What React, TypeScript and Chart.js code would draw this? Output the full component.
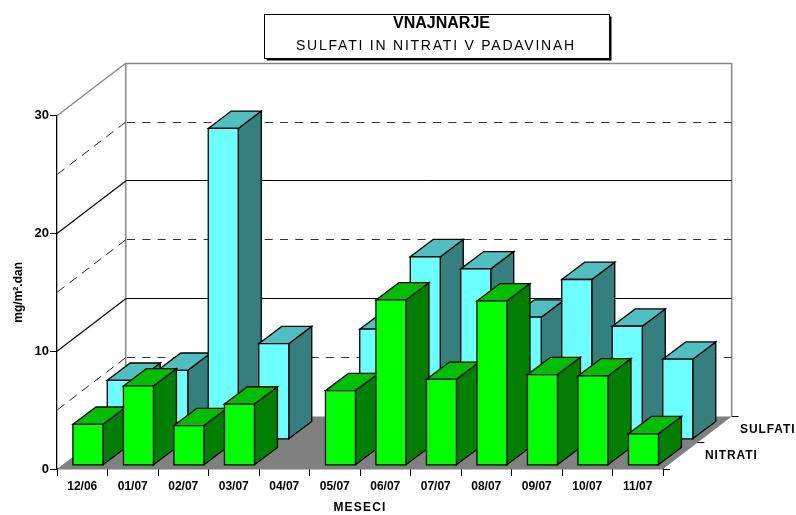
import React, { useEffect, useRef } from "react";
import { Chart, registerables } from "chart.js";

Chart.register(...registerables);

const categories = ["12/06", "01/07", "02/07", "03/07", "04/07", "05/07", "06/07", "07/07", "08/07", "09/07", "10/07", "11/07"];
const nitrati = [3.48, 6.74, 3.37, 5.2, null, 6.34, 14.04, 7.3, 13.96, 7.7, 7.59, 2.68];
const sulfati = [5.01, 5.86, 26.4, 8.12, null, 9.35, 15.5, 14.47, 10.37, 13.57, 9.6, 6.8];
const dashedLevels = [5, 15, 25];
const solidLevels = [10, 20];
const titleMain = "VNAJNARJE";
const titleSub = "SULFATI IN NITRATI V PADAVINAH";
const xTitle = "MESECI";
const yTitle = "mg/m\u00B2.dan";

const DEPTH_X = 68.7;
const DEPTH_Y = 52.5;
const FONT = '"Liberation Sans", Arial, sans-serif';

const SERIES_STYLE: Record<string, { front: string; top: string; side: string; dx: number; dy: number }> = {
  NITRATI: { front: "#00FF00", top: "#00BF00", side: "#007F00", dx: 5.7, dy: 3.7 },
  SULFATI: { front: "#6BFFFF", top: "#50BFBF", side: "#357F7F", dx: 40.0, dy: 29.7 },
};
const BAR_DX = 23;
const BAR_DY = 17.3;

function poly(ctx: CanvasRenderingContext2D, pts: number[][], fill: string | null, stroke: string | null, lw = 1.3) {
  ctx.beginPath();
  pts.forEach((p, i) => (i ? ctx.lineTo(p[0], p[1]) : ctx.moveTo(p[0], p[1])));
  ctx.closePath();
  if (fill) {
    ctx.fillStyle = fill;
    ctx.fill();
  }
  if (stroke) {
    ctx.strokeStyle = stroke;
    ctx.lineWidth = lw;
    ctx.stroke();
  }
}

function seg(ctx: CanvasRenderingContext2D, x0: number, y0: number, x1: number, y1: number, color: string, lw: number, dash: number[] = []) {
  ctx.beginPath();
  ctx.setLineDash(dash);
  ctx.moveTo(x0, y0);
  ctx.lineTo(x1, y1);
  ctx.strokeStyle = color;
  ctx.lineWidth = lw;
  ctx.stroke();
  ctx.setLineDash([]);
}

const snap = (v: number) => Math.floor(v) + 0.5;

const box3dPlugin = {
  id: "box3d",
  beforeDatasetsDraw(chart: any) {
    const { ctx, chartArea: a, scales } = chart;
    const y = scales.y;
    ctx.save();
    const bl = y.getPixelForValue(0);
    const tl = y.getPixelForValue(30);
    const bx = a.left + DEPTH_X;
    const rx = a.right + DEPTH_X;
    // floor
    poly(ctx, [[a.left, bl], [a.right, bl], [rx, bl - DEPTH_Y], [bx, bl - DEPTH_Y]], "#808080", null);
    // back wall frame
    const grey = "#858585";
    seg(ctx, bx, snap(tl - DEPTH_Y), rx, snap(tl - DEPTH_Y), grey, 1.5);
    seg(ctx, bx, tl - DEPTH_Y, bx, bl - DEPTH_Y, grey, 1.5);
    seg(ctx, rx, tl - DEPTH_Y, rx, bl - DEPTH_Y, grey, 1.5);
    seg(ctx, a.left, tl, bx, tl - DEPTH_Y, grey, 1.3);
    for (const v of solidLevels) {
      const py = y.getPixelForValue(v);
      seg(ctx, a.left, py, bx, py - DEPTH_Y, "#000", 1.1);
      seg(ctx, bx, snap(py - DEPTH_Y), rx, snap(py - DEPTH_Y), "#000", 1);
    }
    for (const v of dashedLevels) {
      const py = y.getPixelForValue(v);
      seg(ctx, bx, py - DEPTH_Y, a.left, py, "#222", 1, [9, 6.4]);
      seg(ctx, rx, snap(py - DEPTH_Y), bx, snap(py - DEPTH_Y), "#333", 1.1, [8, 7.3]);
    }
    // depth ticks along the right floor edge
    seg(ctx, a.right, snap(bl), a.right + 7, snap(bl), "#000", 1);
    seg(ctx, a.right + DEPTH_X / 2, snap(bl - DEPTH_Y / 2), a.right + DEPTH_X / 2 + 7, snap(bl - DEPTH_Y / 2), "#000", 1);
    seg(ctx, rx, snap(bl - DEPTH_Y), rx + 7, snap(bl - DEPTH_Y), "#000", 1);
    ctx.restore();
  },
  beforeDatasetDraw(chart: any, args: any) {
    const { ctx } = chart;
    const ds = chart.data.datasets[args.index];
    const st = SERIES_STYLE[ds.label];
    ctx.save();
    args.meta.data.forEach((el: any, i: number) => {
      if (ds.data[i] == null) return;
      const { x, y, base, width } = el.getProps(["x", "y", "base", "width"], true);
      const l = x - width / 2 + st.dx;
      const r = x + width / 2 + st.dx;
      const t = y - st.dy;
      const b = base - st.dy;
      poly(ctx, [[r, t], [r + BAR_DX, t - BAR_DY], [r + BAR_DX, b - BAR_DY], [r, b]], st.side, "#000");
      poly(ctx, [[l, t], [l + BAR_DX, t - BAR_DY], [r + BAR_DX, t - BAR_DY], [r, t]], st.top, "#000");
      poly(ctx, [[l, t], [r, t], [r, b], [l, b]], st.front, "#000");
    });
    ctx.restore();
    return false;
  },
  afterDraw(chart: any) {
    const { ctx, chartArea: a, scales } = chart;
    const bl = scales.y.getPixelForValue(0);
    ctx.save();
    // title box with shadow
    ctx.fillStyle = "#000";
    ctx.fillRect(266.5, 16.5, 345, 44);
    ctx.fillStyle = "#FFF";
    ctx.fillRect(264.5, 14.5, 345, 44);
    ctx.strokeStyle = "#000";
    ctx.lineWidth = 1;
    ctx.strokeRect(264.5, 14.5, 345, 44);
    ctx.fillStyle = "#000";
    ctx.textAlign = "center";
    ctx.textBaseline = "middle";
    ctx.font = `bold 16px ${FONT}`;
    ctx.fillText(titleMain, 441.5, 24);
    ctx.font = `14px ${FONT}`;
    (ctx as any).letterSpacing = "1.77px";
    ctx.fillText(titleSub, 436, 46.5);
    (ctx as any).letterSpacing = "1.2px";
    ctx.font = `bold 12px ${FONT}`;
    ctx.fillText(xTitle, (a.left + a.right) / 2, 508);
    (ctx as any).letterSpacing = "0.9px";
    ctx.textAlign = "left";
    ctx.fillText("NITRATI", a.right + 42, bl - 13.5);
    ctx.fillText("SULFATI", a.right + 77, bl - 39.5);
    (ctx as any).letterSpacing = "0px";
    ctx.restore();
  },
};

export default function App() {
  const ref = useRef<HTMLCanvasElement | null>(null);
  useEffect(() => {
    document.body.style.margin = "0";
    const chart = new Chart(ref.current as HTMLCanvasElement, {
      type: "bar",
      data: {
        labels: categories,
        datasets: [
          { label: "NITRATI", data: nitrati, backgroundColor: "#00FF00", barThickness: 30, grouped: false },
          { label: "SULFATI", data: sulfati, backgroundColor: "#6BFFFF", barThickness: 30, grouped: false },
        ],
      } as any,
      options: {
        animation: false,
        responsive: false,
        layout: { padding: { top: 115.7, right: 133, left: 0, bottom: 0 } },
        plugins: { legend: { display: false }, tooltip: { enabled: false } },
        scales: {
          x: {
            afterFit: (s: any) => { s.height = 46; },
            grid: { drawOnChartArea: false, tickLength: 7, color: "#000", offset: true },
            border: { color: "#000", width: 1.3 },
            ticks: { color: "#000", font: { family: FONT, size: 12, weight: "bold" }, maxRotation: 0, autoSkip: false, padding: 3 },
          },
          y: {
            min: 0,
            max: 30,
            afterFit: (s: any) => { s.width = 57; },
            grid: { drawOnChartArea: false, tickLength: 7, color: "#000" },
            border: { color: "#000", width: 1.3 },
            ticks: { stepSize: 10, color: "#000", font: { family: FONT, size: 13, weight: "bold" }, padding: 1 },
            title: { display: true, text: yTitle, color: "#000", font: { family: FONT, size: 12, weight: "bold" }, padding: { top: 11, bottom: 0 } },
          },
        },
      } as any,
      plugins: [box3dPlugin as any],
    });
    return () => chart.destroy();
  }, []);
  return <canvas ref={ref} width={796} height={515} style={{ display: "block" }} />;
}
